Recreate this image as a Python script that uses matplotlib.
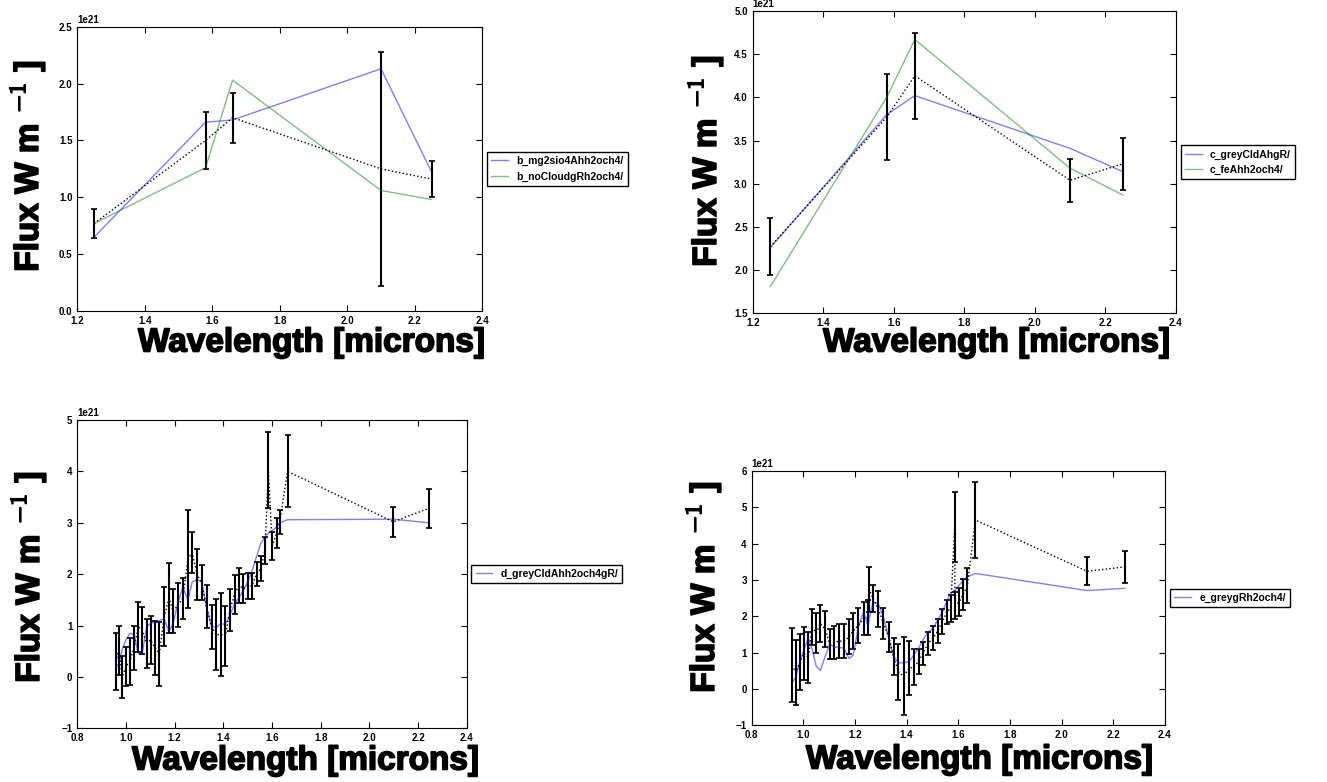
import numpy as np
import matplotlib
matplotlib.use("Agg")
import matplotlib.pyplot as plt
import matplotlib.patheffects as pe

# photometry for b and c (J, H-narrow, H, K1, K2) in units of 1e21
wl_phot = [1.25, 1.58, 1.66, 2.10, 2.25]

b_flux = [0.77, 1.50, 1.70, 1.25, 1.16]
b_err = [0.13, 0.25, 0.22, 1.03, 0.16]
b_mod_mg2sio4 = [0.65, 1.66, 1.68, 2.13, 1.22]
b_mod_nocloud = [0.77, 1.26, 2.03, 1.06, 0.98]

c_flux = [2.27, 3.77, 4.25, 3.04, 3.23]
c_err = [0.33, 0.50, 0.50, 0.25, 0.30]
c_mod_greycld = [2.26, 3.80, 4.02, 3.41, 3.14]
c_mod_fe = [1.81, 4.00, 4.67, 3.18, 2.87]

# spectrum + photometry for d
d_wl = [0.958, 0.971, 0.985, 1.000, 1.016, 1.033, 1.051, 1.067, 1.085, 1.101,
        1.120, 1.137, 1.157, 1.177, 1.194, 1.214, 1.233, 1.255, 1.272, 1.292,
        1.311, 1.331, 1.352, 1.371, 1.389, 1.408, 1.427, 1.446, 1.465, 1.482,
        1.500, 1.517, 1.537, 1.554, 1.571, 1.585, 1.601, 1.619, 1.632, 1.664,
        2.098, 2.244]
d_flux = [0.30, 0.52, 0.00, 0.21, 0.30, 0.57, 0.97, 0.91, 0.65, 0.72,
          0.56, 0.45, 1.18, 1.53, 1.28, 1.40, 1.53, 2.30, 2.42, 2.00,
          1.83, 1.37, 0.97, 0.82, 0.83, 0.80, 1.30, 1.61, 1.78, 1.72,
          1.77, 1.77, 2.00, 2.11, 2.46, 4.02, 2.55, 2.80, 3.02, 4.00,
          3.02, 3.28]
d_err = [0.55, 0.48, 0.40, 0.38, 0.45, 0.43, 0.48, 0.46, 0.48, 0.46,
         0.53, 0.62, 0.58, 0.68, 0.43, 0.43, 0.40, 0.95, 0.40, 0.50,
         0.34, 0.42, 0.43, 0.69, 0.81, 0.58, 0.41, 0.38, 0.34, 0.28,
         0.26, 0.25, 0.23, 0.24, 0.26, 0.74, 0.27, 0.29, 0.23, 0.70,
         0.29, 0.38]
d_mod = [0.20, 0.25, 0.55, 0.72, 0.85, 0.83, 0.45, 0.47, 0.98, 1.04,
         1.07, 1.10, 1.13, 0.88, 1.05, 1.45, 1.75, 1.50, 1.85, 1.90,
         1.85, 1.35, 0.98, 0.97, 1.03, 1.03, 1.20, 1.42, 1.55, 1.68,
         1.85, 2.05, 2.35, 2.60, 2.72, 2.80, 2.85, 2.92, 3.00, 3.06,
         3.07, 3.00]

# spectrum + photometry for e
e_wl = [0.957, 0.971, 0.987, 1.002, 1.019, 1.034, 1.050, 1.066, 1.084, 1.102,
        1.120, 1.138, 1.157, 1.177, 1.193, 1.213, 1.233, 1.251, 1.254, 1.270,
        1.290, 1.310, 1.331, 1.349, 1.368, 1.388, 1.409, 1.427, 1.446, 1.463,
        1.482, 1.502, 1.520, 1.538, 1.555, 1.570, 1.586, 1.587, 1.604, 1.619,
        1.635, 1.666, 2.098, 2.244]
e_flux = [0.65, 0.45, 0.75, 0.98, 0.86, 1.71, 1.54, 1.80, 1.65, 1.24,
          1.27, 1.32, 1.31, 1.44, 1.60, 1.75, 1.94, 1.96, 2.74, 2.50,
          2.20, 1.81, 1.42, 0.89, 0.47, 0.35, 0.57, 0.60, 0.76, 0.98,
          1.25, 1.40, 1.59, 1.86, 2.12, 2.22, 4.45, 2.30, 2.40, 2.60,
          2.85, 4.65, 3.24, 3.36]
e_err = [1.02, 0.90, 0.77, 0.73, 0.70, 0.49, 0.56, 0.50, 0.49, 0.41,
         0.45, 0.47, 0.47, 0.48, 0.50, 0.48, 0.46, 0.48, 0.61, 0.37,
         0.50, 0.43, 0.41, 0.50, 0.77, 1.07, 0.74, 0.50, 0.34, 0.32,
         0.32, 0.34, 0.33, 0.34, 0.33, 0.38, 0.96, 0.37, 0.38, 0.43,
         0.49, 1.04, 0.38, 0.43]
e_mod = [0.18, 0.33, 0.78, 1.07, 1.40, 1.10, 0.62, 0.51, 0.89, 1.24,
         1.15, 1.15, 1.12, 0.84, 0.93, 1.71, 2.12, 1.71, 1.90, 2.40,
         2.34, 1.99, 1.40, 0.89, 0.72, 0.72, 0.75, 0.93, 1.12, 1.35,
         1.56, 1.67, 1.90, 2.12, 2.40, 2.63, 2.72, 2.72, 2.86, 2.99,
         3.09, 3.18, 2.71, 2.77]

SCALE = 1e21

plt.rcParams["font.family"] = ["Liberation Sans", "DejaVu Sans"]
plt.rcParams["font.weight"] = "bold"
plt.rcParams["mathtext.fontset"] = "cm"
plt.rcParams["xtick.direction"] = "in"
plt.rcParams["ytick.direction"] = "in"
plt.rcParams["xtick.top"] = True
plt.rcParams["ytick.right"] = True
plt.rcParams["xtick.major.size"] = 4
plt.rcParams["ytick.major.size"] = 4
plt.rcParams["xtick.labelsize"] = 7
plt.rcParams["ytick.labelsize"] = 7

W, H = 1327, 782
fig = plt.figure(figsize=(W / 100, H / 100), dpi=100)


def px_axes(left, top, right, bottom):
    # axes box given in pixel coordinates of the figure
    return fig.add_axes([left / W, 1 - bottom / H, (right - left) / W, (bottom - top) / H])


def draw_panel(ax, wl, flux, err, models, xlim, ylim, yticks):
    f = np.array(flux) * SCALE
    e = np.array(err) * SCALE
    ax.errorbar(wl, f, yerr=e, color="k", ls=":", lw=1, elinewidth=1.5,
                capsize=2.5, capthick=1.2)
    for (name, vals, col) in models:
        ax.plot(wl, np.array(vals) * SCALE, color=col, lw=1, alpha=0.5, label=name)
    ax.set_xlim(*xlim)
    ax.set_ylim(ylim[0] * SCALE, ylim[1] * SCALE)
    ax.set_yticks(np.array(yticks) * SCALE)
    ax.yaxis.get_offset_text().set_fontsize(7)
    ax.yaxis.get_offset_text().set_fontweight("bold")
    ax.legend(loc="center left", bbox_to_anchor=(1.012, 0.5), borderaxespad=0,
              handlelength=1.6, fancybox=False, framealpha=1,
              edgecolor="k", prop={"weight": "bold", "size": 7.5})


xlab = "Wavelength [microns]"
ylab = r"Flux W m $^{-1}$ ]"
heavy = [pe.withStroke(linewidth=1.2, foreground="k")]

ax1 = px_axes(77.3, 26.7, 482.3, 311)
draw_panel(ax1, wl_phot, b_flux, b_err,
           [("b_mg2sio4Ahh2och4/", b_mod_mg2sio4, "b"),
            ("b_noCloudgRh2och4/", b_mod_nocloud, "g")],
           (1.2, 2.4), (0, 2.5), [0, 0.5, 1.0, 1.5, 2.0, 2.5])

ax2 = px_axes(752.7, 11, 1175.7, 313.3)
draw_panel(ax2, wl_phot, c_flux, c_err,
           [("c_greyCldAhgR/", c_mod_greycld, "b"),
            ("c_feAhh2och4/", c_mod_fe, "g")],
           (1.2, 2.4), (1.5, 5.0), [1.5, 2.0, 2.5, 3.0, 3.5, 4.0, 4.5, 5.0])

ax3 = px_axes(77.3, 420, 466.7, 728.4)
draw_panel(ax3, d_wl, d_flux, d_err,
           [("d_greyCldAhh2och4gR/", d_mod, "b")],
           (0.8, 2.4), (-1, 5), [-1, 0, 1, 2, 3, 4, 5])

ax4 = px_axes(751.7, 471, 1165, 725.3)
draw_panel(ax4, e_wl, e_flux, e_err,
           [("e_greygRh2och4/", e_mod, "b")],
           (0.8, 2.4), (-1, 6), [-1, 0, 1, 2, 3, 4, 5, 6])

# big axis labels, placed by hand like the original
for (x, y) in [(312, 343), (997, 343), (306, 761), (980, 760)]:
    fig.text(x / W, 1 - y / H, xlab, ha="center", va="center",
             fontsize=24, fontweight="bold", path_effects=heavy)
for (x, y) in [(27, 166), (705, 161), (28, 577), (703, 587)]:
    fig.text(x / W, 1 - y / H, ylab, ha="center", va="center", rotation=90,
             fontsize=24, fontweight="bold", path_effects=heavy)

fig.savefig("out.png", dpi=100)
